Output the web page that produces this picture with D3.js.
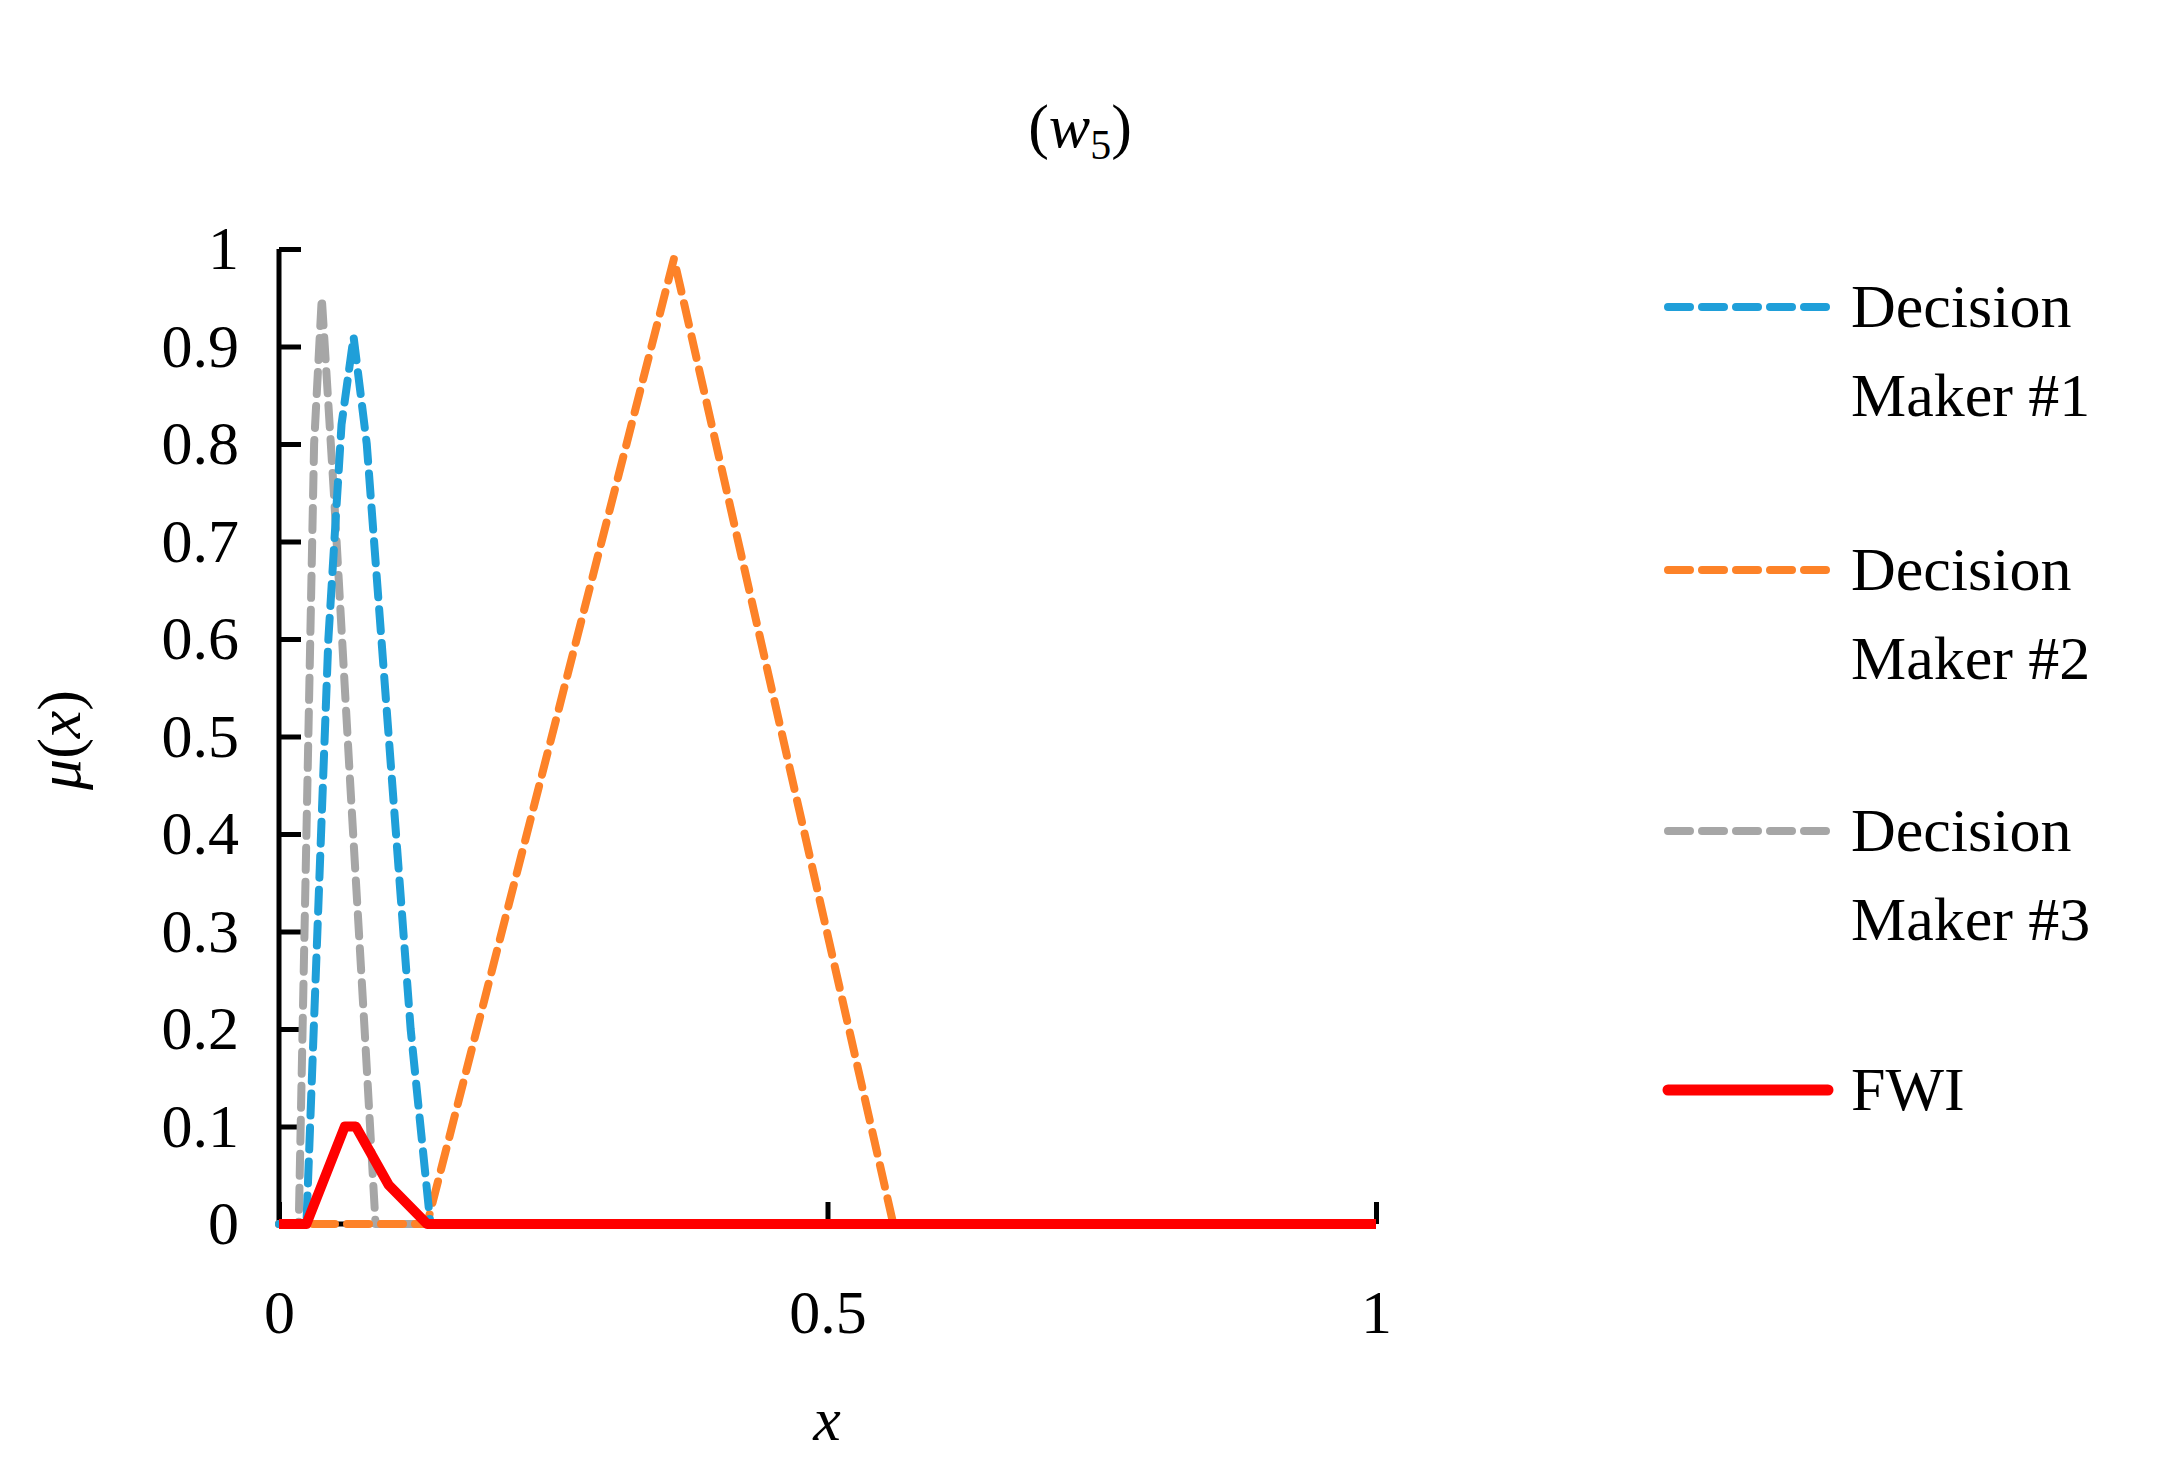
<!DOCTYPE html><html><head><meta charset="utf-8">
<script src="https://cdn.jsdelivr.net/npm/d3@7"></script>
<style>body{margin:0;background:#fff}text{font-family:"Liberation Serif","Times New Roman",serif;fill:#000}</style></head><body>
<svg id="c" width="2180" height="1471"></svg>
<script>
const yTicks=[0,0.1,0.2,0.3,0.4,0.5,0.6,0.7,0.8,0.9,1];
const xTicks=[0,0.5,1];
const dm1=[[0,0],[0.025,0],[0.035,0.3],[0.045,0.6],[0.057,0.82],[0.068,0.91],[0.08,0.8],[0.1,0.5],[0.12,0.2],[0.138,0],[1,0]];
const dm2=[[0,0],[0.135,0],[0.36,0.99],[0.56,0],[1,0]];
const dm3=[[0,0],[0.018,0],[0.025,0.4],[0.032,0.8],[0.039,0.95],[0.05,0.75],[0.065,0.45],[0.078,0.2],[0.088,0],[0.135,0]];
const fwi=[[0,0],[0.025,0],[0.06,0.1],[0.07,0.1],[0.085,0.07],[0.1,0.04],[0.135,0],[1,0]];
const names=["Decision|Maker #1","Decision|Maker #2","Decision|Maker #3","FWI"];
const colors=["#1f9fd9","#fd8228","#a6a6a6","#ff0000"];
const svg=d3.select("#c");
const x=d3.scaleLinear().domain([0,1]).range([279,1376]);
const y=d3.scaleLinear().domain([0,1]).range([1224,249]);
const line=d3.line().x(d=>x(d[0])).y(d=>y(d[1]));
const yA=svg.append("g").attr("transform","translate(279,0)").call(d3.axisLeft(y).tickValues(yTicks).tickFormat(d=>d===0||d===1?d:d3.format(".1f")(d)).tickSize(-22).tickPadding(40));
const xA=svg.append("g").attr("transform","translate(0,1224)").call(d3.axisBottom(x).tickValues(xTicks).tickFormat(d=>d===0.5?"0.5":d).tickSize(-22).tickPadding(65));
[yA,xA].forEach(a=>{a.selectAll("path,line").attr("stroke","#000").attr("stroke-width",5);a.select(".domain").attr("d",null);a.selectAll("text").style("font-size","62px").attr("font-family",null);});
yA.select(".domain").remove();xA.select(".domain").remove();
svg.append("line").attr("x1",279).attr("x2",279).attr("y1",y(1)).attr("y2",y(0)).attr("stroke","#000").attr("stroke-width",5);
svg.append("line").attr("x1",279).attr("x2",1376).attr("y1",y(0)).attr("y2",y(0)).attr("stroke","#000").attr("stroke-width",5);
[dm3,dm2,dm1].forEach((d,i)=>{const k=[2,1,0][i];
 svg.append("path").attr("d",line(d)).attr("fill","none").attr("stroke",colors[k]).attr("stroke-width",8).attr("stroke-dasharray","22,12").attr("stroke-linecap","round").attr("stroke-linejoin","round");});
svg.append("path").attr("d",line(fwi)).attr("fill","none").attr("stroke",colors[3]).attr("stroke-width",10).attr("stroke-linejoin","round");
svg.append("text").attr("x",1080).attr("y",147).attr("text-anchor","middle").style("font-size","62px").html('(<tspan font-style="italic">w</tspan><tspan font-size="42px" dy="12">5</tspan><tspan dy="-12">)</tspan>');
svg.append("text").attr("transform","translate(80,740) rotate(-90)").attr("text-anchor","middle").style("font-size","62px").html('<tspan font-style="italic">μ</tspan>(<tspan font-style="italic">x</tspan>)');
svg.append("text").attr("x",827).attr("y",1440).attr("text-anchor","middle").style("font-size","62px").style("font-style","italic").text("x");
const ly=[307,570,831,1090];
names.forEach((n,i)=>{
 svg.append("line").attr("x1",1668).attr("x2",1828).attr("y1",ly[i]).attr("y2",ly[i]).attr("stroke",colors[i]).attr("stroke-width",i==3?11:8).attr("stroke-linecap","round").attr("stroke-dasharray",i==3?null:"22,12");
 const parts=n.split("|");
 parts.forEach((p,j)=>svg.append("text").attr("x",1851).attr("y",ly[i]+20+j*89).style("font-size","62px").text(p));
});
</script></body></html>
